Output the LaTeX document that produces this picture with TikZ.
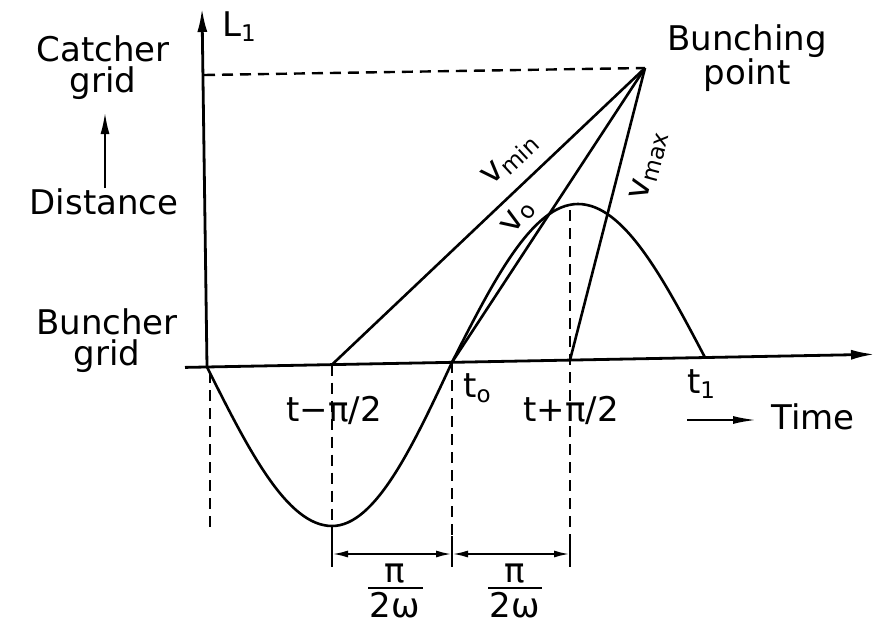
\documentclass[tikz,border=0pt]{standalone}
\usepackage{fontspec}
\setmainfont{DejaVu Sans}
\usetikzlibrary{arrows.meta}
\begin{document}
\begin{tikzpicture}[x=1pt,y=-1pt,
  ln/.style={line width=2.6pt},
  dsh/.style={line width=2.4pt, dash pattern=on 11pt off 7pt},
  txt/.style={font=\fontsize{34}{31}\selectfont, inner sep=0pt, align=center},
  axarrow/.style={-{Latex[length=24pt,width=10pt]}},
  dimarrow/.style={{Latex[length=16pt,width=7pt]}-{Latex[length=16pt,width=7pt]}, line width=2.2pt}]
\newcommand{\sbs}[1]{\raisebox{-5pt}{\fontsize{23}{23}\selectfont #1}}
\useasboundingbox (0,0) rectangle (877,624);
% key points
\coordinate (O) at (207,367);
\coordinate (Ytop) at (202,8);
\coordinate (Xl) at (185,367.4);
\coordinate (Xr) at (875,354.3);
\coordinate (A) at (332,364.6);
\coordinate (B) at (452,362.3);
\coordinate (C) at (570,360.1);
\coordinate (T) at (705,357.5);
\coordinate (P) at (645,68);
\coordinate (Ymk) at (204,75);
\coordinate (Min) at (332,526);
\coordinate (Max) at (578,204);
% axes
\draw[line width=2.8pt,axarrow] (O) -- (Ytop);
\draw[line width=2.8pt,axarrow] (Xl) -- (Xr);
% dashed guides
\draw[dsh] (Ymk) -- (P);
\coordinate (Ob) at (210,527);
\draw[dsh] (210,372) -- (Ob);
\coordinate (Ab) at (332,540);
\coordinate (Bb) at (452,540);
\coordinate (Cb) at (570,540);
\coordinate (Ct) at (570,210);
\draw[dsh] (A) -- (Ab);
\draw[dsh] (B) -- (Bb);
\draw[dsh] (Ct) -- (Cb);
% ticks
\draw[ln] (332,536) -- (332,567);
\draw[ln] (452,536) -- (452,567);
\draw[ln] (570,536) -- (570,567);
% dimension arrows
\coordinate (D1) at (332,554);
\coordinate (D2) at (452,554);
\coordinate (D3) at (570,554);
\draw[dimarrow] (D1) -- (D2);
\draw[dimarrow] (D2) -- (D3);
% sine curve
\draw[ln] (O) sin (Min) cos (B) sin (Max) cos (T);
% velocity lines
\draw[ln] (A) -- (P);
\draw[ln] (B) -- (P);
\draw[ln] (C) -- (P);
% distance arrow
\coordinate (Ua) at (105,188);
\coordinate (Ub) at (105,112);
\draw[line width=2.4pt,-{Latex[length=22pt,width=9pt]}] (Ua) -- (Ub);
% time arrow
\coordinate (Ta) at (687,420);
\coordinate (Tb) at (757,420);
\draw[line width=2.4pt,-{Latex[length=24pt,width=8pt]}] (Ta) -- (Tb);
% labels
\node[txt] (L1) at (239,27) {L\sbs{1}};
\node[txt] (catch) at (103,68) {Catcher\\grid};
\node[txt] (dist) at (104,202) {Distance};
\node[txt] (bunch) at (107,341) {Buncher\\grid};
\node[txt] (bp) at (747,58) {Bunching\\point};
\node[txt] (tm) at (334,410) {t−π/2};
\node[txt] (t0) at (477,388) {t\sbs{o}};
\node[txt] (tp) at (571,410) {t+π/2};
\node[txt] (t1) at (701,384) {t\sbs{1}};
\node[txt] (time) at (813,417) {Time};
\node[txt,rotate=43] (vmin) at (510,160) {v\sbs{min}};
\node[txt,rotate=57] (vo) at (518,218) {v\sbs{o}};
\node[txt,rotate=75] (vmax) at (649,166) {v\sbs{max}};
% fractions
\node[txt] (pi1) at (395,574) {π};
\node[txt] (om1) at (395,605) {2ω};
\draw[line width=2pt] (368,588) -- (423,588);
\node[txt] (pi2) at (515,574) {π};
\node[txt] (om2) at (515,605) {2ω};
\draw[line width=2pt] (488,588) -- (542,588);
\end{tikzpicture}
\end{document}
